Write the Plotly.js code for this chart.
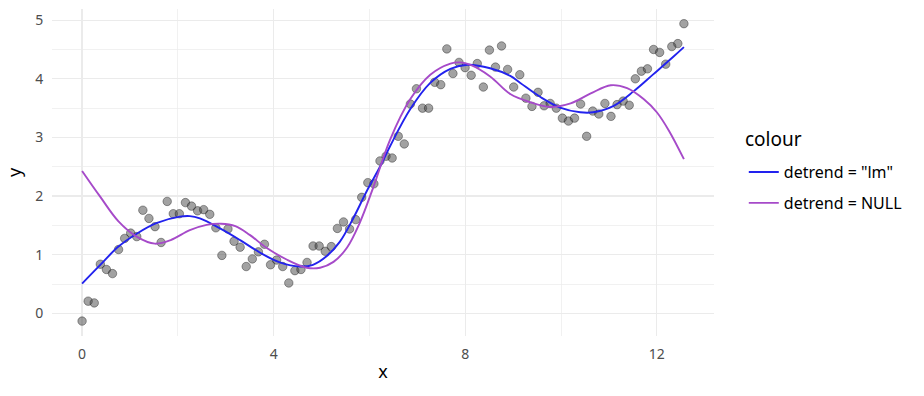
<!DOCTYPE html>
<html>
<head>
<meta charset="utf-8">
<script src="https://cdn.plot.ly/plotly-3.0.1.min.js"></script>
<style>html,body{margin:0;padding:0;background:#fff;}#chart{width:924px;height:396px;}</style>
</head>
<body>
<div id="chart"></div>
<script>
// observed points
const pointX = [0.000, 0.127, 0.254, 0.381, 0.508, 0.635, 0.762, 0.889, 1.015, 1.142,
  1.269, 1.396, 1.523, 1.650, 1.777, 1.904, 2.031, 2.158, 2.285, 2.412,
  2.539, 2.666, 2.793, 2.919, 3.046, 3.173, 3.300, 3.427, 3.554, 3.681,
  3.808, 3.935, 4.062, 4.189, 4.316, 4.443, 4.570, 4.697, 4.823, 4.950,
  5.077, 5.204, 5.331, 5.458, 5.585, 5.712, 5.839, 5.966, 6.093, 6.220,
  6.347, 6.474, 6.601, 6.727, 6.854, 6.981, 7.108, 7.235, 7.362, 7.489,
  7.616, 7.743, 7.870, 7.997, 8.124, 8.251, 8.378, 8.505, 8.631, 8.758,
  8.885, 9.012, 9.139, 9.266, 9.393, 9.520, 9.647, 9.774, 9.901, 10.028,
  10.155, 10.282, 10.409, 10.535, 10.662, 10.789, 10.916, 11.043, 11.170, 11.297,
  11.424, 11.551, 11.678, 11.805, 11.932, 12.059, 12.186, 12.313, 12.439, 12.566];
const pointY = [-0.13, 0.21, 0.18, 0.84, 0.75, 0.68, 1.09, 1.28, 1.37, 1.31,
  1.76, 1.62, 1.48, 1.21, 1.91, 1.70, 1.70, 1.89, 1.83, 1.75,
  1.77, 1.69, 1.46, 0.99, 1.44, 1.23, 1.13, 0.80, 0.93, 1.05,
  1.18, 0.83, 0.91, 0.80, 0.52, 0.73, 0.75, 0.87, 1.15, 1.15,
  1.06, 1.14, 1.45, 1.56, 1.44, 1.60, 1.98, 2.23, 2.21, 2.60,
  2.68, 2.65, 3.02, 2.89, 3.57, 3.83, 3.50, 3.50, 3.94, 3.90,
  4.51, 4.09, 4.28, 4.19, 4.06, 4.26, 3.86, 4.49, 4.20, 4.56,
  4.16, 3.86, 4.07, 3.67, 3.53, 3.77, 3.54, 3.58, 3.50, 3.33,
  3.28, 3.33, 3.57, 3.02, 3.45, 3.40, 3.58, 3.36, 3.56, 3.62,
  3.55, 4.00, 4.13, 4.17, 4.50, 4.45, 4.25, 4.55, 4.60, 4.94];

// fitted curve: detrend = "lm"
const lmX = [0, 0.37, 0.76, 1.14, 1.55, 2.04, 2.25, 2.46, 2.88, 3.30, 3.71, 4.13, 4.55, 4.82,
  5.11, 5.38, 5.66, 5.94, 6.22, 6.43, 6.85, 7.27, 7.69, 8.05, 8.52, 8.94, 9.15, 9.57,
  9.98, 10.40, 10.67, 11.10, 11.52, 11.93, 12.35, 12.566];
const lmY = [0.51, 0.82, 1.14, 1.36, 1.54, 1.65, 1.66, 1.62, 1.45, 1.25, 1.04, 0.87, 0.80, 0.83,
  0.98, 1.22, 1.62, 2.08, 2.50, 2.85, 3.48, 3.93, 4.17, 4.24, 4.18, 4.05, 3.93, 3.69,
  3.51, 3.43, 3.43, 3.54, 3.79, 4.08, 4.38, 4.54];

// fitted curve: detrend = NULL
const nullX = [0, 0.37, 0.76, 1.14, 1.52, 1.85, 2.25, 2.6, 2.9, 3.2, 3.5, 3.85, 4.27, 4.69,
  4.97, 5.25, 5.53, 5.8, 6.08, 6.43, 6.85, 7.27, 7.69, 7.9, 8.1, 8.52, 8.94, 9.36,
  9.78, 10.2, 10.62, 11.04, 11.38, 11.73, 12.0, 12.25, 12.566];
const nullY = [2.43, 2.00, 1.57, 1.31, 1.19, 1.25, 1.42, 1.51, 1.53, 1.49, 1.34, 1.12, 0.92, 0.78,
  0.78, 0.88, 1.12, 1.55, 2.15, 2.96, 3.65, 4.07, 4.26, 4.28, 4.24, 4.04, 3.74, 3.60,
  3.52, 3.58, 3.75, 3.89, 3.84, 3.65, 3.43, 3.12, 2.63];

const seriesNames = ['detrend = "lm"', 'detrend = NULL'];
const legendTitle = 'colour';
const xTicks = [0, 4, 8, 12];
const yTicks = [0, 1, 2, 3, 4, 5];

const FONT = 'Noto Sans, Open Sans, DejaVu Sans, sans-serif';

const traces = [
  {x: pointX, y: pointY, type: 'scatter', mode: 'markers', showlegend: false, hoverinfo: 'skip',
   marker: {size: 8.5, color: 'rgba(70,70,70,0.5)', line: {width: 1, color: 'rgba(0,0,0,0.35)'}}},
  {x: lmX, y: lmY, type: 'scatter', mode: 'lines', name: seriesNames[0], legendgroup: 'a',
   line: {color: '#2222ee', width: 1.9, shape: 'spline', smoothing: 1}},
  {x: nullX, y: nullY, type: 'scatter', mode: 'lines', name: seriesNames[1], legendgroup: 'b',
   line: {color: '#a64ac9', width: 1.9, shape: 'spline', smoothing: 1}}
];

const axisCommon = {
  showline: false, zeroline: false, showgrid: true,
  gridcolor: '#ebebeb', gridwidth: 1.3,
  ticks: 'outside', ticklen: 5, tickcolor: 'rgba(0,0,0,0)',
  tickfont: {family: FONT, size: 14, color: '#4d4d4d'},
};

const layout = {
  width: 924, height: 396,
  paper_bgcolor: '#ffffff', plot_bgcolor: '#ffffff',
  margin: {l: 52, r: 210, t: 9, b: 60},
  font: {family: FONT},
  xaxis: Object.assign({}, axisCommon, {
    range: [-0.628, 13.194], tickmode: 'array', tickvals: xTicks, ticktext: xTicks.map(String),
    minor: {dtick: 2, tick0: 0, showgrid: true, gridcolor: '#ebebeb', gridwidth: 0.7, ticks: ''},
    title: {text: 'x', font: {family: FONT, size: 18, color: '#000'}, standoff: 3}
  }),
  yaxis: Object.assign({}, axisCommon, {
    range: [-0.384, 5.19], tickmode: 'array', tickvals: yTicks, ticktext: yTicks.map(String),
    minor: {dtick: 0.5, tick0: 0, showgrid: true, gridcolor: '#ebebeb', gridwidth: 0.7, ticks: ''},
    title: {text: 'y', font: {family: FONT, size: 18, color: '#000'}, standoff: 8}
  }),
  annotations: [{
    text: legendTitle, xref: 'paper', yref: 'paper', x: 1.044, y: 0.602,
    xanchor: 'left', yanchor: 'middle', showarrow: false,
    font: {family: FONT, size: 19, color: '#000'}
  }],
  showlegend: true,
  legend: {
    x: 1.045, xanchor: 'left', y: 0.553, yanchor: 'top',
    font: {family: FONT, size: 16, color: '#000'},
    tracegroupgap: 7, itemwidth: 30,
    bgcolor: 'rgba(0,0,0,0)'
  }
};

Plotly.newPlot('chart', traces, layout, {displayModeBar: false, staticPlot: true});
</script>
</body>
</html>
